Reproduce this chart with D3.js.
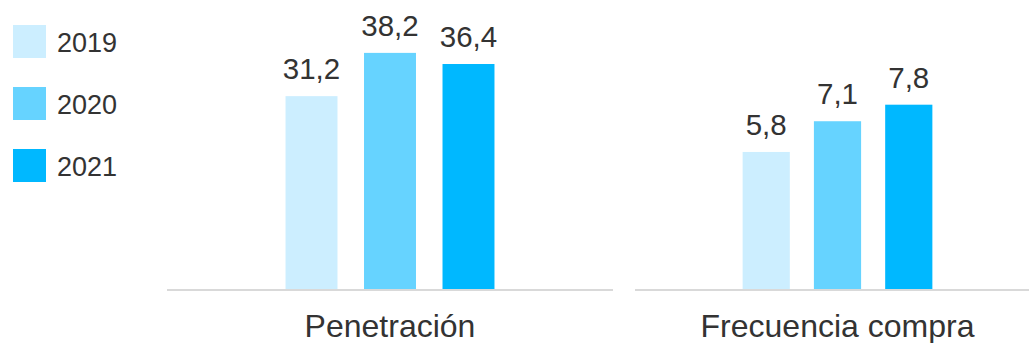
<!DOCTYPE html>
<html>
<head>
<meta charset="utf-8">
<script src="https://cdn.jsdelivr.net/npm/d3@7"></script>
<style>
  html, body { margin: 0; padding: 0; background: #fff; }
  svg { display: block; font-family: "Liberation Sans", Arial, sans-serif; }
</style>
</head>
<body>
<svg id="chart" width="1029" height="343"></svg>
<script>
// ---- Data ----
const categories = ["Penetración", "Frecuencia compra"];
const years = ["2019", "2020", "2021"];
const values2019 = [31.2, 5.8];
const values2020 = [38.2, 7.1];
const values2021 = [36.4, 7.8];
const yMaxByCategory = [45.3, 11.85];
const colors = ["#CCEEFF", "#66D3FF", "#00B8FF"];

const series = [values2019, values2020, values2021];
const fmt = v => d3.format(".1f")(v).replace(".", ",");

// ---- Layout ----
const svg = d3.select("#chart");
const baseY = 289, topY = 9;
const panels = [[167, 613], [635, 1040]];
const textColor = "#333333";

categories.forEach((cat, ci) => {
  const [x0, x1] = panels[ci];
  const x = d3.scaleBand().domain(years).range([x0, x1]).paddingInner(0.338).paddingOuter(1.51);
  const y = d3.scaleLinear().domain([0, yMaxByCategory[ci]]).range([baseY, topY]);
  const g = svg.append("g");

  const rows = years.map((yr, si) => ({ yr, v: series[si][ci], c: colors[si] }));

  g.selectAll("rect").data(rows).join("rect")
    .attr("x", d => x(d.yr))
    .attr("width", x.bandwidth())
    .attr("y", d => y(d.v))
    .attr("height", d => y(0) - y(d.v))
    .attr("fill", d => d.c);

  g.selectAll("text.val").data(rows).join("text")
    .attr("class", "val")
    .attr("x", d => x(d.yr) + x.bandwidth() / 2)
    .attr("y", d => y(d.v) - 17)
    .attr("text-anchor", "middle")
    .attr("font-size", 29.5)
    .attr("fill", textColor)
    .text(d => fmt(d.v));

  g.append("line")
    .attr("x1", x0).attr("x2", Math.min(x1, 1029))
    .attr("y1", y(0) + 1).attr("y2", y(0) + 1)
    .attr("stroke", "#d9d9d9").attr("stroke-width", 2);

  g.append("text")
    .attr("x", (x0 + x1) / 2)
    .attr("y", 337)
    .attr("text-anchor", "middle")
    .attr("font-size", 32)
    .attr("fill", textColor)
    .text(cat);
});

// ---- Legend ----
const legend = svg.append("g");
const ly = d3.scalePoint().domain(years).range([25, 149]);
const items = legend.selectAll("g").data(years).join("g")
  .attr("transform", d => `translate(13,${ly(d)})`);
items.append("rect").attr("width", 33).attr("height", 33)
  .attr("fill", (d, i) => colors[i]);
items.append("text").attr("x", 44).attr("y", 27)
  .attr("font-size", 27).attr("fill", textColor).text(d => d);
</script>
</body>
</html>
